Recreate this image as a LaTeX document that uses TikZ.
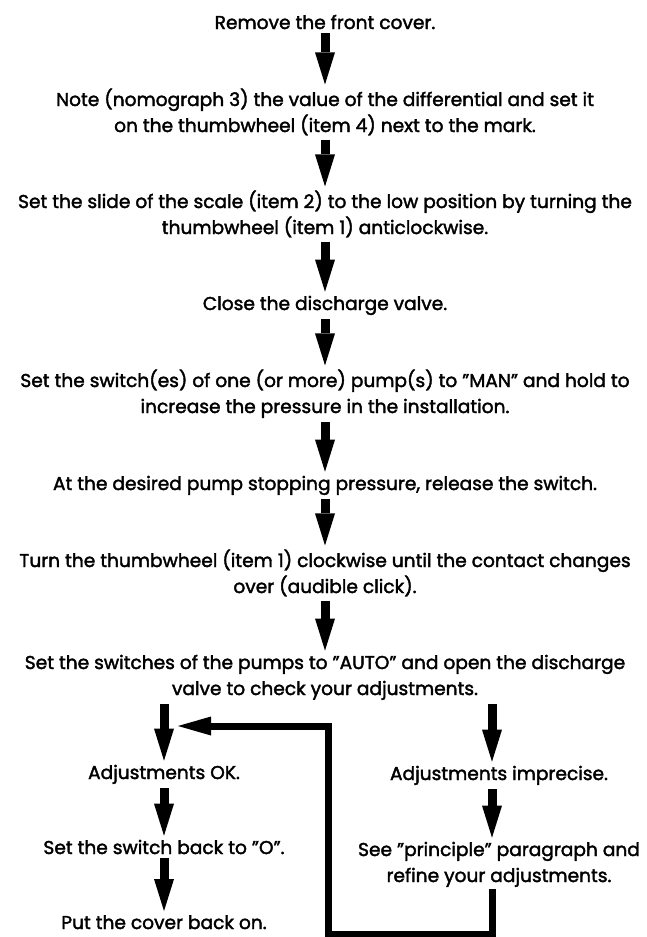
\documentclass[tikz,border=0pt]{standalone}
\usepackage{fontspec}
\setmainfont{Poppins}
\usepackage{tikz}
\usetikzlibrary{arrows.meta}
\tikzset{
    stepnode/.style={inner sep=0pt, align=center, anchor=base,
        font=\fontsize{18.6}{26}\selectfont\addfontfeature{FakeBold=2}},
    downarrow/.style={line width=9pt, -{Triangle[length=32pt,width=20pt,line width=0pt]},
        shorten <=4pt, shorten >=4pt},
    looparrow/.style={line width=7pt, -{Triangle[length=33pt,width=19pt,line width=0pt]}}
}

\begin{document}
\begin{tikzpicture}[x=1pt,y=-1pt]
    \useasboundingbox (0,0) rectangle (646,937);
    % Main sequence
    \node[stepnode] (cover) at (325,29) {Remove the front cover.};
    \node[stepnode] (diff) at (325,132) {Note (nomograph 3) the value of the differential and set it\\on the thumbwheel (item 4) next to the mark.};
    \node[stepnode] (slide) at (325,234) {Set the slide of the scale (item 2) to the low position by turning the\\thumbwheel (item 1) anticlockwise.};
    \node[stepnode] (valve) at (325,310) {Close the discharge valve.};
    \node[stepnode] (manual) at (325,413) {Set the switch(es) of one (or more) pump(s) to "MAN" and hold to\\increase the pressure in the installation.};
    \node[stepnode] (release) at (325,490) {At the desired pump stopping pressure, release the switch.};
    \node[stepnode] (turn) at (325,593) {Turn the thumbwheel (item 1) clockwise until the contact changes\\over (audible click).};
    \node[stepnode] (auto) at (325,695) {Set the switches of the pumps to "AUTO" and open the discharge\\valve to check your adjustments.};
    % Left branch
    \node[stepnode] (ok) at (164,779) {Adjustments OK.};
    \node[stepnode] (back) at (164,854) {Set the switch back to "O".};
    \node[stepnode] (close) at (164,929) {Put the cover back on.};
    % Right branch
    \coordinate (rightcol) at (492,0);
    \node[stepnode] (imprecise) at (499,780) {Adjustments imprecise.};
    \node[stepnode] (refine) at (499,882) {See "principle" paragraph and\\refine your adjustments.};
    \coordinate (loopin) at (178,726);

    \draw[downarrow] (cover) -- (diff);
    \draw[downarrow] (diff) -- (slide);
    \draw[downarrow] (slide) -- (valve);
    \draw[downarrow] (valve) -- (manual);
    \draw[downarrow] (manual) -- (release);
    \draw[downarrow] (release) -- (turn);
    \draw[downarrow] (turn) -- (auto);
    \draw[downarrow] (auto.south -| ok.north) -- (ok);
    \draw[downarrow] (ok) -- (back);
    \draw[downarrow] (back) -- (close);
    \draw[downarrow] (auto.south -| rightcol) -- (imprecise.north -| rightcol);
    \draw[downarrow] (imprecise.south -| rightcol) -- (refine.north -| rightcol);
    % Back to the OK branch
    \draw[looparrow, shorten <=2pt] (refine.south -| rightcol) |- (328,934) |- (loopin);
\end{tikzpicture}
\end{document}
